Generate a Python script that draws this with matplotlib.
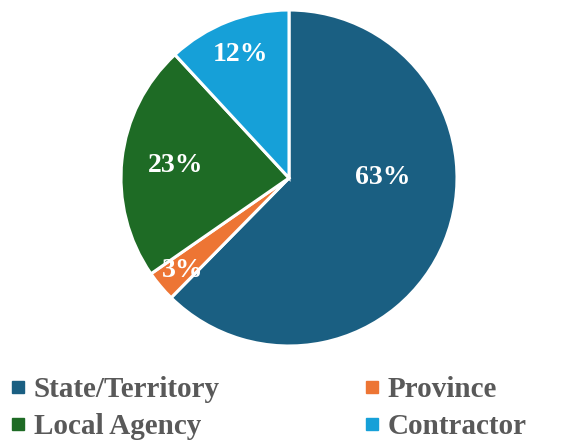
import matplotlib.pyplot as plt
from matplotlib.lines import Line2D
import numpy as np

# data
categories = ["State/Territory", "Province", "Local Agency", "Contractor"]
shares = [63, 3, 23, 12]
colors = ["#1a5f82", "#ed7534", "#1e6b25", "#16a0d8"]

plt.rcParams["font.family"] = ["Liberation Serif", "DejaVu Serif"]

fig = plt.figure(figsize=(5.69, 4.42), dpi=100)

# pie axes: centre ~ (289,178) px, radius ~168 px
cx, cy, r = 289, 178, 168
W, H = 569, 442
ax = fig.add_axes([(cx - r) / W, 1 - (cy + r) / H, 2 * r / W, 2 * r / H])

wedges, _ = ax.pie(shares, colors=colors, startangle=90, counterclock=False,
                   wedgeprops=dict(edgecolor="white", linewidth=2.2))
ax.set_xlim(-1.0, 1.0)
ax.set_ylim(-1.0, 1.0)
ax.set_aspect("equal")

# label placement (distance from centre, optional angle override) like Excel best fit
label_place = [(0.56, 0), (0.84, -139), (0.68, None), (0.79, None)]
for w, val, (dist, ang) in zip(wedges, shares, label_place):
    if ang is None:
        ang = (w.theta1 + w.theta2) / 2
    t = np.deg2rad(ang)
    ax.text(dist * np.cos(t), dist * np.sin(t), f"{val}%", color="white",
            fontsize=20, fontweight="bold", ha="center", va="center")

order = [0, 2, 1, 3]
handles = [Line2D([], [], marker="s", linestyle="none", markersize=8,
                  color=colors[i]) for i in order]
labels = [categories[i] for i in order]
fig.legend(handles, labels, loc="lower left", bbox_to_anchor=(-0.03, -0.055),
           ncol=2, frameon=False, handlelength=0.6, handletextpad=0.25,
           columnspacing=4.9, labelspacing=0.35,
           prop=dict(family="Liberation Serif", weight="bold", size=21),
           labelcolor="#595959")

fig.savefig("out.png", dpi=100)
